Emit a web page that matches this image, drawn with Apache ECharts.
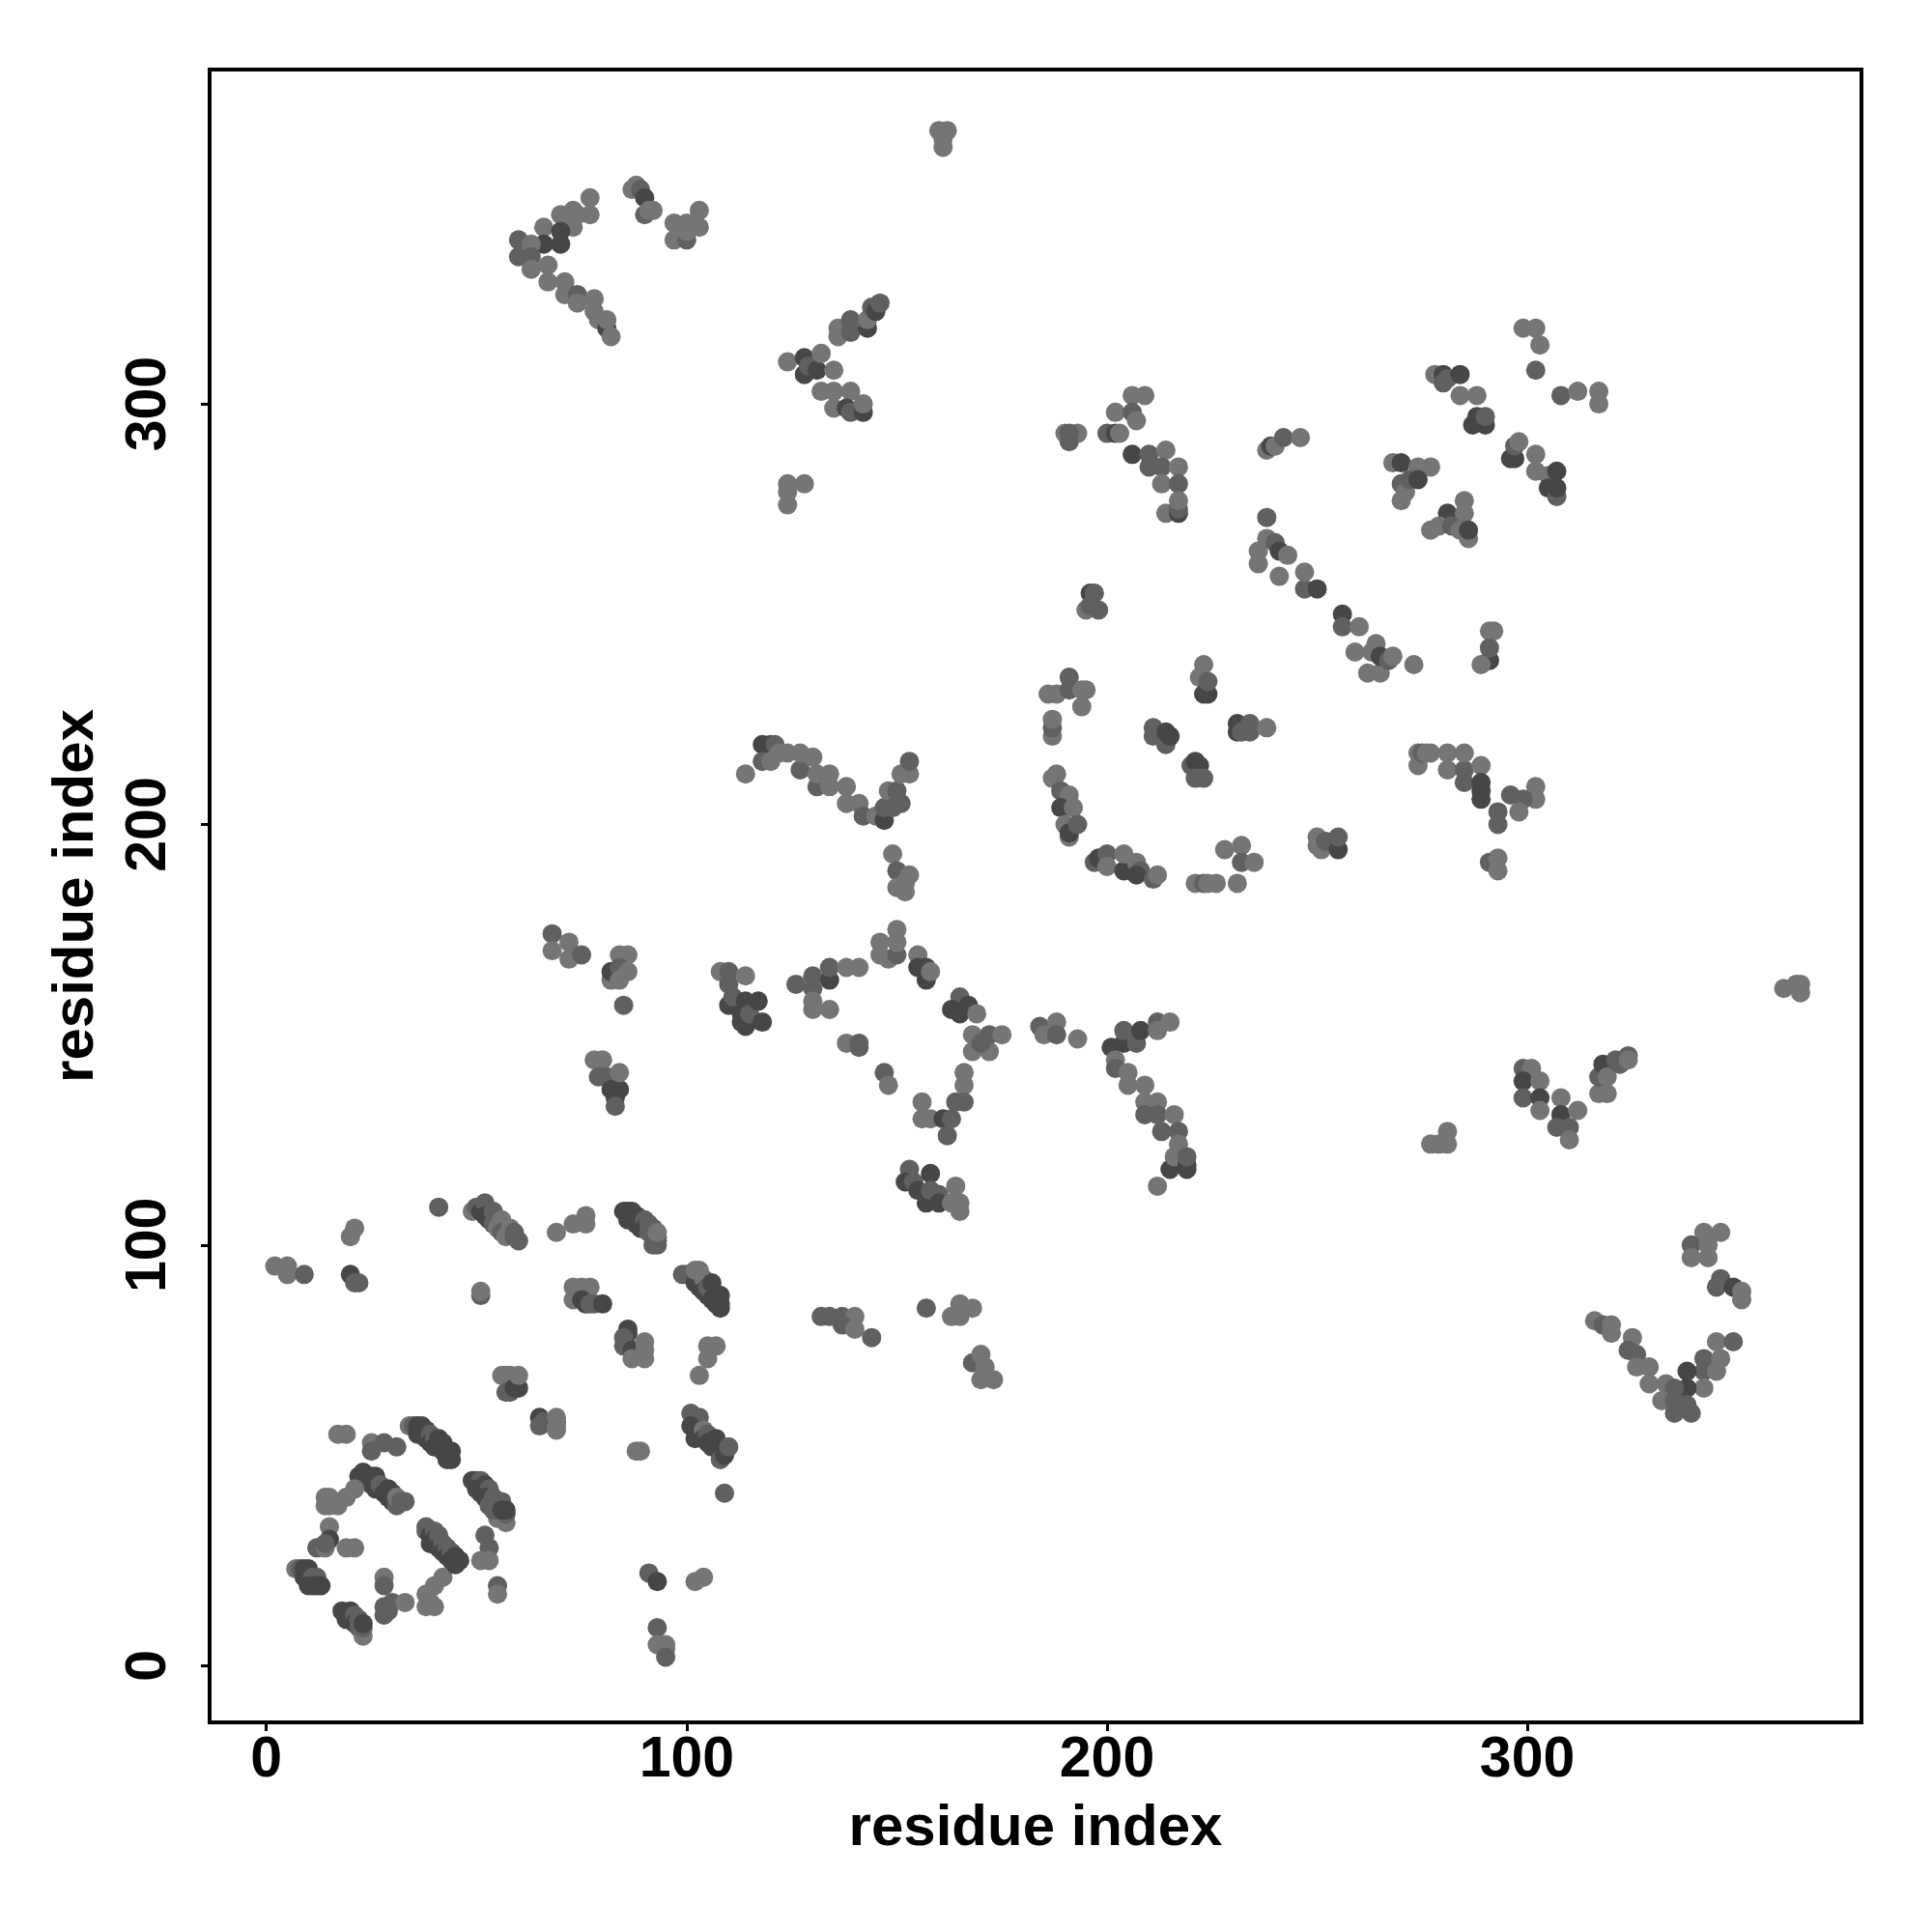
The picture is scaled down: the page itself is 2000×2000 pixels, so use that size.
<!DOCTYPE html>
<html><head><meta charset="utf-8">
<script src="https://cdn.jsdelivr.net/npm/echarts@6/dist/echarts.min.js"></script>
<style>html,body{margin:0;background:#fff}#c{width:2000px;height:2000px}</style></head>
<body><div id="c"></div>
<script>
// each contact: [residue i, residue j, strength 1 (weak) .. 3 (strong)]
const tickValues = [0, 100, 200, 300];
const axisName = "residue index";
const lowerLeft = [
[2,95,1],[5,95,1],[5,93,1],[9,93,2],[21,104,1],[20,102,1],[20,93,3],[21,91,2],[22,91,2],[41,109,2],
[49,108,1],[50,109,2],[51,108,3],[52,110,2],[52,107,3],[53,106,3],[54,108,2],[54,105,2],[55,104,1],[56,106,1],[56,103,2],[57,102,1],[58,104,1],[59,103,2],[59,102,2],[60,101,2],
[51,88,2],[51,89,1],[69,103,1],[73,105,1],[76,105,1],[76,107,1],
[85,108,3],[86,108,3],[87,108,3],[86,106,3],[88,107,3],[88,105,3],[89,106,3],[89,104,3],[90,106,2],[90,104,3],[91,105,2],[91,103,2],[92,100,2],[93,100,2],[92,102,2],[92,104,2],[93,101,2],[93,102,2],[93,103,1],
[99,93,2],[100,93,2],[101,93,2],[102,91,3],[103,90,3],[102,94,1],[103,94,1],[104,92,1],[104,89,3],[105,88,3],[105,90,2],[106,91,3],[106,87,3],[107,86,3],[108,85,3],[108,86,3],[108,88,3],
[73,90,1],[75,90,1],[77,90,1],[73,87,1],[75,87,3],[76,86,3],[77,86,2],[78,86,2],[80,86,3],
[86,80,3],[86,79,3],[85,78,2],[85,76,2],[87,75,3],[87,73,1],[90,73,1],[90,75,1],[90,77,1],
[105,76,1],[107,76,1],[105,73,1],[103,69,1],
[56,69,1],[57,69,1],[58,69,1],[60,66,3],[57,65,2],[58,65,2],[59,66,3],[60,69,1],
[65,59,3],[65,57,2],[66,58,2],[69,58,3],[69,56,1],[69,57,1],[69,59,1],
[101,60,2],[102,59,2],[103,59,2],[101,57,3],[102,56,3],[103,55,3],[102,54,3],[104,56,1],[104,54,3],[105,55,2],[105,53,3],[106,52,3],[107,54,3],[107,52,3],[108,51,3],[108,49,2],[109,50,3],[110,52,2],
[88,51,1],[89,51,1],[109,41,2],[91,22,2],[93,20,3],[102,20,1],[104,21,1],[93,9,2],[93,5,1],[95,5,1],[95,4,1],[95,2,2]
];
const cornerRing = [
[17,55,1],[19,55,1],[25,53,1],[25,51,2],[28,53,2],[31,52,2],
[34,57,1],[35,57,2],[36,57,3],[37,57,3],[36,55,3],[38,56,3],[38,54,3],[39,55,2],[39,53,3],[40,54,2],[40,52,3],[41,54,3],[41,52,3],[42,53,3],[42,51,3],[43,51,3],[44,49,3],[43,49,3],[44,51,3],
[22,45,3],[23,46,3],[24,44,3],[25,45,3],[25,43,3],[26,45,3],[26,42,3],[27,43,2],[28,41,3],[29,42,3],[29,40,3],[30,41,3],[30,39,3],[31,38,2],[31,40,1],[32,39,2],[33,39,2],
[21,42,1],[19,40,1],[14,38,1],[15,38,1],[14,40,1],[15,40,1],[17,38,1],
[49,44,3],[50,44,3],[51,44,2],[50,42,3],[52,43,3],[51,41,3],[53,42,2],[52,40,3],[54,40,2],[53,38,2],[55,35,1],[55,39,2],[54,37,2],[56,39,2],[57,34,1],[57,36,2],[56,37,3],[57,37,3],
[52,31,2],[53,28,2],[51,25,1],[53,25,1],
[15,33,1],[15,30,3],[12,28,2],[14,28,1],[14,29,2],[19,28,1],[21,28,1],
[7,23,1],[8,23,2],[9,23,3],[10,23,3],[9,21,3],[10,20,3],[11,21,2],[10,19,3],[12,21,2],[11,19,3],[12,19,3],[13,19,3],
[28,21,1],[28,19,2],[28,12,2],[28,14,2],[29,13,2],[30,15,2],[33,15,1],
[42,21,1],[40,19,1],[38,17,1],[38,14,1],[40,14,1],[39,15,1],[55,19,2],[55,17,1],
[38,32,2],[38,33,2],[39,31,3],[40,32,2],[39,29,3],[40,30,3],[41,31,2],[41,28,3],[42,29,2],[42,27,3],[43,28,2],[43,26,3],[44,27,2],[44,25,3],[45,26,3],[45,24,3],[46,25,3],
[18,13,3],[19,12,3],[19,11,3],[20,13,3],[20,11,3],[21,12,2],[21,10,3],[22,11,2],[22,9,2],[23,7,1],[23,9,2],[23,10,3]
];
const upperLeft = [
[77,349,1],[77,345,1],[73,346,1],[74,345,1],[73,342,1],[70,345,1],[66,342,1],[70,341,3],[70,338,3],[66,338,3],[60,339,2],[60,335,2],[63,338,1],[63,335,2],[63,332,1],[67,333,1],[67,329,1],[71,329,1],[71,326,1],[74,326,2],[74,324,1],[78,325,1],[78,322,1],[79,320,1],[81,318,3],[81,320,1],[82,316,1],
[87,351,1],[88,352,1],[89,351,2],[90,349,3],[90,345,2],[92,346,1],[91,346,1],
[97,343,1],[100,343,1],[97,339,1],[100,339,2],[100,341,1],[103,342,1],[103,346,1],
[160,365,1],[162,365,1],[161,361,1],[161,363,1],
[136,316,1],[136,318,1],[139,317,2],[139,320,2],[143,318,3],[143,320,1],[144,323,2],[145,322,3],[146,324,2],
[124,310,1],[128,307,3],[128,311,3],[129,309,2],[131,308,3],[132,312,1],[135,308,1],
[132,303,1],[135,303,1],[139,303,1],[135,299,1],[138,299,3],[139,298,2],[142,298,3],[142,300,1],
[124,276,1],[124,281,1],[124,279,1],[128,281,1]
];
const upperRight = [
[190,293,1],[193,293,1],[191,291,2],[191,293,2],
[206,302,1],[209,302,1],[202,298,1],[206,298,2],[207,296,1],[200,293,2],[202,293,3],[203,293,1],
[206,288,3],[210,288,2],[214,289,1],[210,285,2],[213,285,2],[217,285,1],[213,281,1],[217,281,2],[214,274,1],[217,274,3],[217,275,2],[217,277,1],
[238,289,1],[239,290,3],[240,290,1],[242,292,2],[246,292,1],
[238,273,2],[236,262,1],[236,265,1],[238,268,1],[240,267,2],[241,265,3],[243,264,1],[241,259,1],[247,256,2],[247,260,1],[250,256,3],
[256,250,3],[256,247,2],[260,247,1],[259,241,1],[262,236,1],[265,236,1],[264,243,1],[263,241,1],[265,240,3],[267,239,2],[268,240,1],[273,238,1],
[223,238,1],[222,235,1],[224,231,3],[223,231,3],[224,234,2],
[196,255,3],[197,255,2],[195,251,1],[196,252,2],[198,251,2],
[291,246,1],[292,246,1],[291,239,3],[289,238,1],[291,242,2],
[191,235,2],[186,231,1],[188,231,1],[191,232,2],[194,232,1],[195,232,1],[194,228,1],
[187,221,1],[187,223,2],[187,225,1],
[211,223,2],[211,221,2],[214,219,2],[214,222,3],[215,221,3],
[231,224,3],[231,222,3],[232,222,2],[234,224,2],[234,222,2],[238,223,1],
[220,214,2],[221,215,3],[222,214,3],[221,211,2],[223,211,2],
[274,214,1],[274,217,1],[275,217,2],[276,217,1],[277,217,1],[281,213,1],[281,217,1],[285,213,2],[285,217,1],[285,210,2],[289,214,1],[289,208,3],[289,210,3],[289,206,3],
[302,209,1],[302,206,1],[296,207,2],[299,206,2],[298,203,1],[293,200,2],[293,203,2],
[291,191,2],[293,189,1],[293,192,1],
[188,212,1],[187,211,1],[189,208,2],[191,207,1],[189,204,3],[192,204,1],[190,200,1],[191,197,1],[191,198,3],[193,200,2],
[197,191,2],[198,192,3],[200,193,2],[200,190,1],[204,189,3],[204,193,1],[207,191,1],[208,189,2],[207,188,3],[211,187,2],[212,188,1],
[221,186,1],[223,186,2],[224,186,1],[226,186,1],[231,186,1],[228,194,1],[232,195,1],[232,191,2],[235,191,1],
[250,195,1],[250,197,1],[251,194,1],[252,196,2],[255,194,3],[255,197,2],
[278,307,1],[280,307,3],[281,306,2],[284,307,3],[280,305,2],[284,302,1],[288,302,1],[302,308,2],[308,302,2],[312,303,1],[317,303,1],[317,300,1],
[287,295,3],[288,297,3],[290,295,3],[290,297,2],
[296,287,3],[297,287,3],[297,290,2],[302,288,1],[302,284,1],[305,283,1],[305,280,3],[307,278,2],[307,280,3],[307,284,3],
[268,286,1],[270,286,3],[274,285,1],[277,285,1],[270,281,2],[270,277,1],[271,279,1],[272,282,2],[274,282,3],
[285,277,1],[281,274,3],[285,274,1],[277,270,1],[279,271,1],[282,271,2],[284,270,1],[286,268,1],[286,270,3],
[299,318,1],[302,318,1],[303,314,1],[298,291,1]
];
const centre = [
[118,219,3],[120,219,3],[121,219,2],[118,215,2],[120,215,1],[122,217,1],[124,217,1],[127,213,2],[127,217,1],[130,216,1],[131,209,2],[131,212,1],[134,212,1],[134,209,1],[138,209,1],[138,205,1],[141,205,1],[142,202,2],[145,202,1],[147,201,3],[147,204,2],[148,208,1],[149,204,2],[151,205,2],[150,208,2],[151,212,1],[153,212,1],[153,215,2],[114,212,1],
[149,193,1],[150,189,2],[153,188,1],[150,185,1],[152,184,1],[152,186,1],
[146,172,1],[146,169,1],[148,168,1],[150,169,2],[150,175,1],[150,172,1],
[155,169,1],[155,166,3],[157,166,3],[157,163,3],[158,165,1],
[165,159,2],[163,156,3],[165,155,3],[167,157,3],[169,155,1],
[168,146,1],[168,150,1],[172,146,1],[170,148,2],[172,150,2],[175,150,1],
[126,162,2],[130,161,2],[130,164,2],[134,163,3],[134,166,2],[138,166,1],[141,166,1],[130,158,1],[130,156,1],[134,156,1],
[138,148,1],[141,147,2],[141,148,2],
[147,141,2],[148,138,1],[156,134,1],[156,130,1],[158,130,1],[166,141,1],[166,138,1],[164,134,2],[166,134,2],[161,130,3],[163,130,2],[162,126,2],
[153,118,2],[152,115,3],[154,115,2],[158,117,3],[155,113,3],[157,110,3],[158,113,2],[160,112,2],[160,110,3],[164,114,1],[163,110,1],[165,110,1],[165,108,1],
[68,174,2],[68,170,1],[72,172,1],[72,168,1],[75,169,2],
[84,169,1],[86,169,1],[82,163,1],[82,165,3],[84,166,2],[84,163,1],[86,165,1],[85,157,2],
[78,144,1],[80,144,1],[79,140,2],[81,140,2],[82,137,3],[83,135,3],[84,137,3],[84,141,1],[83,133,2],
[108,165,1],[110,165,2],[110,162,2],[114,164,1],[110,157,3],[111,159,2],[113,155,3],[113,153,3],[114,152,3],[114,158,3],[115,155,2],[117,158,3],[118,153,3]
];
const lowerRight = [
[184,152,2],[185,150,1],[188,153,1],[188,150,2],[193,149,1],
[201,147,3],[204,148,3],[204,151,2],[207,148,2],[208,151,3],[212,153,2],[212,151,1],[215,153,1],
[202,144,1],[202,142,2],[205,141,1],[205,138,1],[209,138,1],[209,134,1],[212,134,1],[209,131,2],[212,131,2],[216,131,1],[213,127,2],[217,127,2],[217,124,1],
[215,118,3],[216,121,1],[219,118,3],[219,119,3],[219,121,2],[212,114,1],
[277,124,1],[279,124,1],[281,124,1],[281,127,1],
[299,142,2],[301,142,1],[299,139,3],[299,135,2],[303,139,1],[303,135,3],[303,132,1],
[308,135,1],[308,131,3],[312,132,1],[307,128,2],[310,128,2],[310,125,1],
[317,136,1],[319,136,1],[317,140,2],[318,143,3],[319,140,1],[321,144,2],[322,143,2],[324,145,2],[324,144,1],
[361,161,1],[364,162,1],[365,160,1],[365,162,1],
[342,103,1],[346,103,1],[339,100,2],[343,100,1],[339,97,1],[343,97,1],
[346,92,2],[345,90,2],[349,90,3],[351,87,1],[351,89,1],
[316,82,1],[318,81,2],[320,81,1],[320,79,1],[325,78,1],[324,75,2],[326,74,2],[326,71,1],[329,71,1],[329,67,1],
[345,77,1],[349,77,2],[342,73,2],[346,73,1],[342,70,2],[345,70,1],[338,70,3],[342,66,1],[338,66,3],[333,67,1],[335,66,2],[332,63,1],[335,63,2],[338,62,2],[335,60,2],[339,60,2]
];
const lowerMiddle = [
[132,83,2],[134,83,2],[137,83,2],[140,83,1],[137,81,2],[140,80,1],[144,78,2],
[157,85,2],[163,83,1],[165,86,1],[165,83,1],[168,85,1],
[168,72,2],[170,74,1],[170,68,1],[171,71,1],[173,68,1]
];
const regions = [lowerLeft, cornerRing, upperLeft, upperRight, centre, lowerRight, lowerMiddle];
const greys = {1: "#757575", 2: "#606060", 3: "#464646"};
const font = "'Liberation Sans', Arial, sans-serif";
const axisCommon = {
  type: "value", min: -13.5, max: 379.5, name: axisName, nameLocation: "middle",
  nameTextStyle: {fontFamily: font, fontWeight: "bold", fontSize: 60, color: "#000"},
  splitLine: {show: false},
  axisLine: {show: false, onZero: false},
  axisTick: {show: true, length: 9, lineStyle: {color: "#000", width: 3}, customValues: tickValues},
};
const labelCommon = {show: true, fontFamily: font, fontWeight: "bold", fontSize: 59, color: "#000", customValues: tickValues, hideOverlap: false, showMinLabel: true, showMaxLabel: true};
const chart = echarts.init(document.getElementById("c"), null, {renderer: "canvas"});
chart.setOption({
  animation: false,
  backgroundColor: "#fff",
  grid: {left: 217, top: 72, right: 73, bottom: 217, show: true, borderColor: "#000", borderWidth: 4, backgroundColor: "transparent"},
  xAxis: Object.assign({}, axisCommon, {nameGap: 80, axisLabel: Object.assign({}, labelCommon, {margin: 10})}),
  yAxis: Object.assign({}, axisCommon, {nameGap: 108, axisLabel: Object.assign({}, labelCommon, {margin: 62, rotate: 90, verticalAlign: "middle", align: "center"})}),
  series: regions.map(function (r) {
    return {
      type: "scatter", symbol: "circle", symbolSize: 20, large: false, silent: true,
      itemStyle: {opacity: 1},
      data: r.map(function (p) { return {value: [p[0], p[1]], itemStyle: {color: greys[p[2]], opacity: 1}}; })
    };
  })
});
</script></body></html>
